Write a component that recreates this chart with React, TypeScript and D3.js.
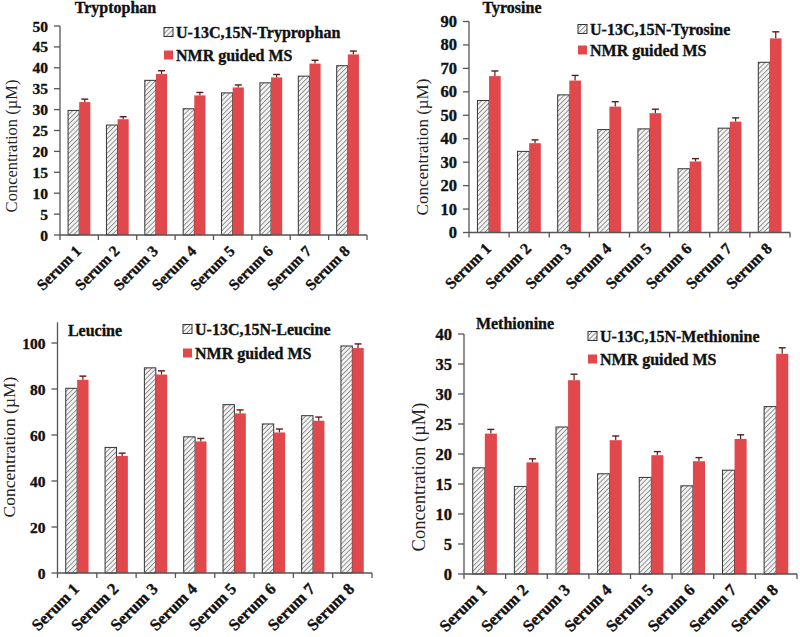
import React from "react";
import * as d3 from "d3";

const categories = ["Serum 1", "Serum 2", "Serum 3", "Serum 4", "Serum 5", "Serum 6", "Serum 7", "Serum 8"];

const trpLabeled = [29.8, 26.3, 37.0, 30.2, 34.0, 36.4, 38.0, 40.5];
const trpNMR = [31.8, 27.7, 38.5, 33.4, 35.3, 37.7, 41.0, 43.2];
const trpErr = [0.7, 0.6, 0.8, 0.7, 0.6, 0.7, 0.8, 0.8];
const trpTicks = [0, 5, 10, 15, 20, 25, 30, 35, 40, 45, 50];

const tyrLabeled = [56.3, 34.6, 58.7, 43.9, 44.2, 27.2, 44.5, 72.6];
const tyrNMR = [66.7, 38.1, 64.8, 53.7, 50.9, 30.3, 47.3, 82.8];
const tyrErr = [2.2, 1.4, 2.2, 2.1, 1.7, 1.2, 1.6, 2.8];
const tyrTicks = [0, 10, 20, 30, 40, 50, 60, 70, 80, 90];

const leuLabeled = [80.3, 54.6, 89.2, 59.2, 73.2, 64.8, 68.4, 98.7];
const leuNMR = [84.0, 50.9, 86.3, 57.2, 69.4, 61.1, 66.2, 97.8];
const leuErr = [1.6, 1.2, 1.6, 1.3, 1.5, 1.5, 1.6, 1.8];
const leuTicks = [0, 20, 40, 60, 80, 100];

const metLabeled = [17.7, 14.6, 24.5, 16.7, 16.1, 14.7, 17.3, 27.9];
const metNMR = [23.4, 18.6, 32.3, 22.3, 19.8, 18.8, 22.5, 36.7];
const metErr = [0.7, 0.6, 1.0, 0.7, 0.6, 0.6, 0.7, 1.0];
const metTicks = [0, 5, 10, 15, 20, 25, 30, 35, 40];

const seriesNMR = "NMR guided MS";

const FONT = "'Liberation Serif', 'Times New Roman', serif";
const RED = "#E0484C";
const AXIS = "#555";

type PanelProps = {
  id: string;
  title: string;
  legendLabel: string;
  labeled: number[];
  nmr: number[];
  err: number[];
  ticks: number[];
  yMax: number;
  x0: number;
  x1: number;
  yZero: number;
  yTopTick: number;
  topTickValue: number;
  tickFont: number;
  labelFont: number;
  yTitle: { x: number; y: number; size: number };
  titlePos: { x: number; y: number };
  legend: { x: number; y1: number; y2: number };
};

function Panel(p: PanelProps) {
  const y = d3
    .scaleLinear()
    .domain([0, p.topTickValue])
    .range([p.yZero, p.yTopTick]);
  const x = d3.scaleBand<string>().domain(categories).range([p.x0, p.x1]).padding(0);
  const step = x.step();
  const bw = step * 0.29;
  const boundaries = d3.range(categories.length + 1).map((i) => p.x0 + i * step);
  const boldStroke = { stroke: "#111", strokeWidth: 0.35 };
  return (
    <g>
      <line x1={p.x0} x2={p.x0} y1={p.yZero} y2={y(p.yMax)} stroke={AXIS} strokeWidth={1.3} />
      {p.ticks.map((t) => (
        <g key={t}>
          <line x1={p.x0 - 6} x2={p.x0} y1={y(t)} y2={y(t)} stroke={AXIS} strokeWidth={1.3} />
          <text
            x={p.x0 - 12}
            y={y(t)}
            textAnchor="end"
            dominantBaseline="central"
            fontFamily={FONT}
            fontWeight="bold"
            fontSize={p.tickFont}
            fill="#111"
            {...boldStroke}
          >
            {t}
          </text>
        </g>
      ))}
      {categories.map((c, i) => {
        const cx = (x(c) as number) + step / 2;
        const hy = y(p.labeled[i]);
        const ry = y(p.nmr[i]);
        const ey = y(p.nmr[i] + p.err[i]);
        return (
          <g key={c}>
            <rect
              x={cx - bw}
              y={hy}
              width={bw}
              height={p.yZero - hy}
              fill={`url(#hatch-${p.id})`}
              stroke="#333"
              strokeWidth={1}
            />
            <line x1={cx + bw / 2} x2={cx + bw / 2} y1={ry} y2={ey} stroke="#5a1c1c" strokeWidth={1.2} />
            <line x1={cx + bw / 2 - 3.5} x2={cx + bw / 2 + 3.5} y1={ey} y2={ey} stroke="#5a1c1c" strokeWidth={1.4} />
            <rect x={cx} y={ry} width={bw} height={p.yZero - ry} fill={RED} />
          </g>
        );
      })}
      <line x1={p.x0} x2={p.x1} y1={p.yZero} y2={p.yZero} stroke={AXIS} strokeWidth={1.3} />
      {boundaries.map((bx, i) => (
        <line key={i} x1={bx} x2={bx} y1={p.yZero} y2={p.yZero + 5} stroke={AXIS} strokeWidth={1.3} />
      ))}
      {categories.map((c) => {
        const cx = (x(c) as number) + step / 2 + 3;
        const ly = p.yZero + 17;
        return (
          <text
            key={c}
            x={cx}
            y={ly}
            transform={`rotate(-45, ${cx}, ${ly})`}
            textAnchor="end"
            fontFamily={FONT}
            fontWeight="bold"
            fontSize={p.labelFont}
            fill="#111"
            {...boldStroke}
          >
            {c}
          </text>
        );
      })}
      <text
        x={p.yTitle.x}
        y={p.yTitle.y}
        transform={`rotate(-90, ${p.yTitle.x}, ${p.yTitle.y})`}
        textAnchor="middle"
        dominantBaseline="central"
        fontFamily={FONT}
        fontSize={p.yTitle.size}
        fill="#222"
      >
        Concentration (µM)
      </text>
      <text
        x={p.titlePos.x}
        y={p.titlePos.y}
        textAnchor="middle"
        fontFamily={FONT}
        fontWeight="bold"
        fontSize={16}
        fill="#111"
        {...boldStroke}
      >
        {p.title}
      </text>
      <rect
        x={p.legend.x}
        y={p.legend.y1 - 4.5}
        width={9}
        height={9}
        fill={`url(#hatch-${p.id})`}
        stroke="#333"
        strokeWidth={1}
      />
      <text
        x={p.legend.x + 12}
        y={p.legend.y1}
        dominantBaseline="central"
        fontFamily={FONT}
        fontWeight="bold"
        fontSize={16}
        fill="#111"
        {...boldStroke}
      >
        {p.legendLabel}
      </text>
      <rect x={p.legend.x} y={p.legend.y2 - 4.5} width={9} height={9} fill={RED} />
      <text
        x={p.legend.x + 12}
        y={p.legend.y2}
        dominantBaseline="central"
        fontFamily={FONT}
        fontWeight="bold"
        fontSize={16}
        fill="#111"
        {...boldStroke}
      >
        {seriesNMR}
      </text>
    </g>
  );
}

export default function App() {
  const ids = ["trp", "tyr", "leu", "met"];
  return (
    <svg
      width={800}
      height={637}
      viewBox="0 0 800 637"
      style={{ position: "absolute", left: 0, top: 0, background: "#fff" }}
    >
      <defs>
        {ids.map((id) => (
          <pattern
            key={id}
            id={`hatch-${id}`}
            patternUnits="userSpaceOnUse"
            width={3.4}
            height={3.4}
            patternTransform="rotate(45)"
          >
            <rect width={3.4} height={3.4} fill="#f2f2f2" />
            <line x1={0} y1={0} x2={0} y2={3.4} stroke="#4a4a4a" strokeWidth={1.1} />
          </pattern>
        ))}
      </defs>
      <rect width={800} height={637} fill="#fff" />
      <Panel
        id="trp"
        title="Tryptophan"
        legendLabel="U-13C,15N-Tryprophan"
        labeled={trpLabeled}
        nmr={trpNMR}
        err={trpErr}
        ticks={trpTicks}
        yMax={50}
        topTickValue={50}
        x0={60}
        x1={367}
        yZero={235}
        yTopTick={26}
        tickFont={15.5}
        labelFont={15.5}
        yTitle={{ x: 11, y: 146, size: 16.5 }}
        titlePos={{ x: 115.5, y: 13 }}
        legend={{ x: 164, y1: 32, y2: 55 }}
      />
      <Panel
        id="tyr"
        title="Tyrosine"
        legendLabel="U-13C,15N-Tyrosine"
        labeled={tyrLabeled}
        nmr={tyrNMR}
        err={tyrErr}
        ticks={tyrTicks}
        yMax={90}
        topTickValue={90}
        x0={469}
        x1={790}
        yZero={232.5}
        yTopTick={21.5}
        tickFont={16.5}
        labelFont={16}
        yTitle={{ x: 422, y: 147, size: 17 }}
        titlePos={{ x: 512, y: 13 }}
        legend={{ x: 578, y1: 29, y2: 50 }}
      />
      <Panel
        id="leu"
        title="Leucine"
        legendLabel="U-13C,15N-Leucine"
        labeled={leuLabeled}
        nmr={leuNMR}
        err={leuErr}
        ticks={leuTicks}
        yMax={109}
        topTickValue={100}
        x0={57.5}
        x1={372}
        yZero={573}
        yTopTick={343}
        tickFont={15.5}
        labelFont={16.5}
        yTitle={{ x: 9, y: 447, size: 17.5 }}
        titlePos={{ x: 95, y: 336 }}
        legend={{ x: 183, y1: 329, y2: 353 }}
      />
      <Panel
        id="met"
        title="Methionine"
        legendLabel="U-13C,15N-Methionine"
        labeled={metLabeled}
        nmr={metNMR}
        err={metErr}
        ticks={metTicks}
        yMax={40}
        topTickValue={40}
        x0={464}
        x1={797}
        yZero={574}
        yTopTick={334}
        tickFont={16.5}
        labelFont={16.5}
        yTitle={{ x: 419, y: 477, size: 18.5 }}
        titlePos={{ x: 515, y: 329 }}
        legend={{ x: 588, y1: 336, y2: 359 }}
      />
    </svg>
  );
}
